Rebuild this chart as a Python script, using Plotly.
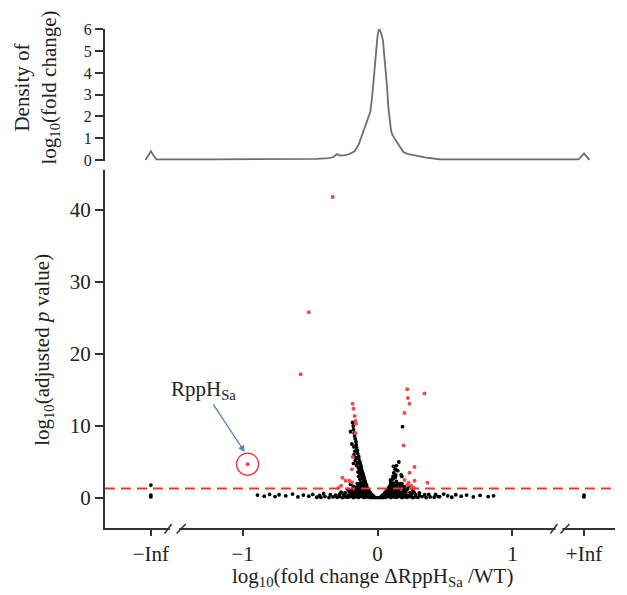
import math

import numpy as np
import plotly.graph_objects as go

# ---- data --------------------------------------------------------------
# density of log10(fold change) (top panel), on the drawn (broken) axis
DENS_FC = [-1.72, -1.70, -1.68, -1.66, -1.64, -1.2, -0.8, -0.6, -0.45, -0.36,
           -0.33, -0.30, -0.28, -0.24, -0.21, -0.17, -0.14, -0.12, -0.10, -0.084,
           -0.066, -0.054, -0.04, -0.03, -0.02, -0.01, 0.0, 0.008, 0.015, 0.025,
           0.04, 0.05, 0.06, 0.07, 0.08, 0.09, 0.10, 0.11, 0.13, 0.15,
           0.17, 0.19, 0.22, 0.26, 0.30, 0.36, 0.46, 0.8, 1.2, 1.49,
           1.51, 1.53, 1.55, 1.57]
DENS_Y = [0.0, 0.2, 0.40, 0.2, 0.02, 0.02, 0.02, 0.03, 0.05, 0.08,
          0.12, 0.27, 0.20, 0.22, 0.27, 0.40, 0.70, 1.05, 1.40, 1.70,
          1.95, 2.20, 2.90, 3.50, 4.20, 5.00, 5.70, 5.98, 6.00, 5.85,
          5.50, 4.90, 4.30, 3.40, 2.45, 1.75, 1.35, 1.15, 0.95, 0.78,
          0.55, 0.37, 0.28, 0.23, 0.17, 0.10, 0.03, 0.02, 0.02, 0.02,
          0.15, 0.30, 0.15, 0.0]

# significant genes (red)
SIG = [(-0.333, 41.8), (-0.51, 25.8), (-0.57, 17.2), (-0.185, 13.1), (-0.178, 12.4),
       (-0.17, 11.4), (-0.163, 10.7), (-0.160, 10.3), (-0.163, 9.0), (-0.185, 5.7),
       (-0.19, 4.0), (-0.237, 2.4), (-0.19, 2.2), (-0.29, 1.4), (-0.26, 2.8),
       (-0.21, 2.4), (-0.27, 1.7), (0.22, 15.1), (0.225, 13.9), (0.237, 13.1),
       (0.348, 14.5), (0.20, 11.8), (0.193, 7.3), (0.274, 4.3), (0.237, 3.5),
       (0.274, 2.4), (0.37, 2.1), (0.23, 2.1), (0.25, 1.7), (0.27, 1.4),
       (0.20, 2.5), (0.22, 1.8)]
RPPH = (-0.963, 4.7)

# non-significant genes (black)
LEFT_ARM = [(-0.185, 10.5), (-0.18, 10.0), (-0.178, 9.5), (-0.172, 9.0), (-0.17, 8.6),
            (-0.165, 8.2), (-0.16, 7.8), (-0.158, 7.4), (-0.155, 7.0), (-0.15, 6.6),
            (-0.148, 6.2), (-0.14, 5.8), (-0.138, 5.4), (-0.13, 5.0), (-0.128, 4.7),
            (-0.122, 4.4), (-0.12, 4.1), (-0.115, 3.8), (-0.11, 3.5), (-0.105, 3.2),
            (-0.1, 2.9), (-0.098, 2.6), (-0.092, 2.3), (-0.088, 2.0), (-0.082, 1.8),
            (-0.078, 1.5), (-0.07, 1.2), (-0.062, 0.9), (-0.055, 0.7), (-0.045, 0.5),
            (-0.035, 0.3), (-0.025, 0.15), (-0.2, 9.2), (-0.19, 7.5), (-0.175, 6.0),
            (-0.165, 5.2), (-0.155, 4.5), (-0.145, 3.6), (-0.14, 3.0), (-0.13, 2.6),
            (-0.125, 2.1), (-0.12, 1.7), (-0.11, 1.3), (-0.1, 1.0), (-0.09, 0.8),
            (-0.08, 0.6), (-0.07, 0.4), (-0.06, 0.2), (-0.05, 0.1), (-0.135, 2.0),
            (-0.125, 1.5), (-0.115, 1.1), (-0.105, 2.4), (-0.095, 1.6), (-0.115, 2.8),
            (-0.085, 1.2), (-0.14, 1.2), (-0.15, 1.0), (-0.16, 0.9), (-0.17, 1.5),
            (-0.13, 3.4), (-0.118, 3.2), (-0.175, 7.1), (-0.168, 6.5), (-0.16, 5.6),
            (-0.15, 4.9), (-0.142, 4.2), (-0.135, 3.8), (-0.178, 4.8), (-0.2, 1.9)]
RIGHT_ARM = [(0.025, 0.15), (0.035, 0.3), (0.045, 0.5), (0.055, 0.7), (0.065, 0.9),
             (0.075, 1.2), (0.085, 1.5), (0.095, 1.8), (0.1, 2.2), (0.11, 2.6),
             (0.115, 3.0), (0.12, 3.5), (0.13, 4.0), (0.14, 4.5), (0.158, 5.0),
             (0.118, 4.4), (0.138, 3.9), (0.175, 3.2), (0.096, 2.5), (0.133, 2.9),
             (0.15, 3.8), (0.135, 3.2), (0.125, 2.8), (0.14, 2.3), (0.17, 2.0),
             (0.19, 1.6), (0.16, 1.3), (0.2, 1.1), (0.185, 9.9), (0.18, 3.0),
             (0.105, 1.4), (0.09, 1.1), (0.08, 0.9), (0.12, 1.9), (0.13, 1.6),
             (0.145, 1.8), (0.11, 0.8), (0.1, 0.6)]
BASE_FC = [-0.42, -0.39, -0.36, -0.33, -0.30, -0.28, -0.26, -0.24, -0.22, -0.20,
           -0.18, -0.16, -0.14, -0.12, -0.10, -0.08, -0.06, -0.04, -0.02, 0.0,
           0.02, 0.04, 0.06, 0.08, 0.10, 0.12, 0.14, 0.16, 0.18, 0.20,
           0.22, 0.24, 0.26, 0.28, 0.30, 0.33, 0.36, 0.39, 0.42, 0.45,
           -0.35, -0.31, -0.28, -0.25, -0.22, -0.20, -0.18, -0.16, -0.14, -0.12,
           -0.10, -0.08, -0.06, -0.045, -0.035, 0.035, 0.045, 0.06, 0.08, 0.10,
           0.12, 0.14, 0.16, 0.18, 0.20, 0.22, 0.25, 0.28, 0.31, 0.35, 0.38,
           -0.27, -0.24, -0.21, -0.19, -0.17, -0.15, -0.13, -0.11, -0.09, -0.07,
           -0.055, 0.055, 0.07, 0.09, 0.11, 0.13, 0.15, 0.17, 0.19, 0.21,
           0.24, 0.27, 0.31,
           -0.22, -0.19, -0.16, -0.14, -0.12, -0.10, -0.085, -0.07, 0.07, 0.085,
           0.10, 0.12, 0.14, 0.16, 0.19, 0.22, 0.26,
           -0.18, -0.15, -0.13, -0.11, -0.095, 0.09, 0.105, 0.12, 0.14, 0.17,
           0.20, 0.23, -0.15, -0.12, -0.10, 0.10, 0.12, 0.15, 0.18]
BASE_P = [0.10, 0.20, 0.05, 0.15, 0.10, 0.20, 0.05, 0.15, 0.10, 0.20,
          0.05, 0.15, 0.10, 0.20, 0.05, 0.15, 0.10, 0.05, 0.05, 0.05,
          0.05, 0.05, 0.10, 0.20, 0.05, 0.15, 0.10, 0.20, 0.05, 0.15,
          0.10, 0.20, 0.05, 0.15, 0.10, 0.20, 0.05, 0.15, 0.10, 0.20,
          0.45, 0.40, 0.50, 0.45, 0.40, 0.50, 0.45, 0.40, 0.50, 0.45,
          0.40, 0.50, 0.45, 0.40, 0.35, 0.35, 0.40, 0.45, 0.50, 0.40,
          0.45, 0.50, 0.40, 0.45, 0.50, 0.40, 0.45, 0.50, 0.40, 0.45, 0.50,
          0.80, 0.75, 0.85, 0.80, 0.75, 0.85, 0.80, 0.75, 0.85, 0.80,
          0.75, 0.75, 0.80, 0.85, 0.75, 0.80, 0.85, 0.75, 0.80, 0.85,
          0.75, 0.80, 0.70,
          1.20, 1.15, 1.25, 1.20, 1.15, 1.25, 1.20, 1.15, 1.15, 1.20,
          1.25, 1.15, 1.20, 1.25, 1.15, 1.20, 1.10,
          1.60, 1.55, 1.65, 1.60, 1.55, 1.55, 1.60, 1.65, 1.55, 1.60,
          1.55, 1.50, 2.00, 2.05, 1.95, 2.00, 2.05, 1.95, 2.00]
TAILS = [(-0.89, 0.4), (-0.84, 0.25), (-0.80, 0.5), (-0.76, 0.2), (-0.73, 0.45),
         (-0.68, 0.3), (-0.63, 0.55), (-0.59, 0.15), (-0.55, 0.4), (-0.51, 0.25),
         (-0.48, 0.5), (-0.45, 0.1), (-0.43, 0.35), (-0.40, 0.6), (0.43, 0.5),
         (0.46, 0.2), (0.49, 0.55), (0.52, 0.3), (0.55, 0.1), (0.58, 0.45),
         (0.62, 0.25), (0.66, 0.4), (0.71, 0.15), (0.76, 0.35), (0.82, 0.2),
         (0.86, 0.3)]
INF_PTS = [(-math.inf, 0.15), (-math.inf, 0.4), (-math.inf, 1.8),
           (math.inf, 0.15), (math.inf, 0.4)]

P_CUTOFF = 0.05
X_TICKS = ["\u2212Inf", "\u22121", "0", "1", "+Inf"]
Y_TICKS = [0, 10, 20, 30, 40]
DENS_TICKS = [0, 1, 2, 3, 4, 5, 6]

# where the infinite fold changes are drawn on the broken axis
NEG_INF_AT, POS_INF_AT = -1.68, 1.53
FONT = "Liberation Serif, DejaVu Serif, serif"
AXIS = "#333333"


def place(vals):
    v = np.asarray(vals, dtype=float)
    return np.where(np.isneginf(v), NEG_INF_AT, np.where(np.isposinf(v), POS_INF_AT, v))


def unzip(pts):
    return [p[0] for p in pts], [p[1] for p in pts]


fig = go.Figure()

fig.add_trace(go.Scatter(x=DENS_FC, y=DENS_Y, mode="lines",
                         line=dict(color="#6e6e6e", width=1.8),
                         xaxis="x2", yaxis="y2", showlegend=False))

bx, by = [], []
for grp in (LEFT_ARM, RIGHT_ARM, TAILS, INF_PTS):
    gx, gy = unzip(grp)
    bx += gx
    by += gy
bx += BASE_FC
by += BASE_P
fig.add_trace(go.Scatter(x=place(bx), y=by, mode="markers",
                         marker=dict(color="black", size=3.8, line_width=0),
                         showlegend=False))

sx, sy = unzip(SIG + [RPPH])
fig.add_trace(go.Scatter(x=sx, y=sy, mode="markers",
                         marker=dict(color="#f24a4a", size=4, line_width=0),
                         showlegend=False))

thresh = -math.log10(P_CUTOFF)
shapes = [
    dict(type="line", xref="paper", x0=0, x1=1, yref="y", y0=thresh, y1=thresh,
         line=dict(color="#ff3535", width=2, dash="10px,6px"), layer="above"),
    dict(type="circle", xref="x", yref="y", xsizemode="pixel", ysizemode="pixel",
         xanchor=RPPH[0], yanchor=RPPH[1], x0=-11, x1=11, y0=-11, y1=11,
         line=dict(color="#e83a3a", width=1.3)),
]
# axis breaks: white gap plus two slashes on each side
for g0, g1, s in ((-1.54, -1.47, (-1.578, -1.526, -1.489, -1.422)),
                  (1.32, 1.37, (1.281, 1.333, 1.356, 1.422))):
    shapes.append(dict(type="rect", xref="x", yref="paper", x0=g0, x1=g1,
                       y0=-0.006, y1=0.006, fillcolor="white", line_width=0, layer="above"))
    shapes.append(dict(type="line", xref="x", yref="paper", x0=s[0], x1=s[1],
                       y0=-0.011, y1=0.008, line=dict(color=AXIS, width=1.5), layer="above"))
    shapes.append(dict(type="line", xref="x", yref="paper", x0=s[2], x1=s[3],
                       y0=-0.011, y1=0.008, line=dict(color=AXIS, width=1.5), layer="above"))

tick_font = dict(family=FONT, size=21, color="#222222")
small_tick_font = dict(family=FONT, size=16, color="#222222")
# page body keeps an 8px margin, so the figure is 8px smaller each way
fig.update_layout(
    width=619, height=587, autosize=False,
    margin=dict(l=97, r=12, t=21, b=67),
    plot_bgcolor="white", paper_bgcolor="white",
    font=dict(family=FONT, size=21, color="#222222"),
    shapes=shapes,
    xaxis=dict(domain=[0, 1], range=[-2.02, 1.76], anchor="y",
               tickvals=[NEG_INF_AT, -1, 0, 1, POS_INF_AT], ticktext=X_TICKS,
               ticks="outside", ticklen=6, tickwidth=1.5, tickcolor=AXIS,
               showline=True, linecolor=AXIS, linewidth=2,
               showgrid=False, zeroline=False, tickfont=tick_font),
    yaxis=dict(domain=[0, 0.7174], range=[-4.17, 45.56], anchor="x",
               tickvals=Y_TICKS, ticks="outside", ticklen=8, tickwidth=1.5,
               tickcolor=AXIS, showline=True, linecolor=AXIS, linewidth=2,
               showgrid=False, zeroline=False, tickfont=tick_font),
    xaxis2=dict(domain=[0, 1], range=[-2.02, 1.76], anchor="y2", visible=False),
    yaxis2=dict(domain=[0.7355, 1], range=[-0.05, 6.02], anchor="x2",
                tickvals=DENS_TICKS, ticks="outside", ticklen=8, tickwidth=1.5,
                tickcolor=AXIS, showline=True, linecolor=AXIS, linewidth=2,
                showgrid=False, zeroline=False, tickfont=small_tick_font),
    annotations=[
        dict(text="log<sub>10</sub>(fold change \u0394RppH<sub>Sa</sub> /WT)",
             xref="paper", yref="paper", x=0.525, y=-0.098, showarrow=False,
             xanchor="center", yanchor="middle"),
        dict(text="log<sub>10</sub>(adjusted <i>p</i> value)", textangle=-90,
             xref="paper", yref="paper", x=-0.1216, y=0.357, showarrow=False,
             xanchor="center", yanchor="middle"),
        dict(text="Density of<br>log<sub>10</sub>(fold change)", textangle=-90,
             xref="paper", yref="paper", x=-0.134, y=0.882, showarrow=False,
             xanchor="center", yanchor="middle"),
        dict(text="RppH<sub>Sa</sub>", x=-0.985, y=6.4, xref="x", yref="y",
             ax=-41, ay=-62, showarrow=True, arrowhead=2, arrowsize=1,
             arrowwidth=1.3, arrowcolor="#4f7fbf"),
    ],
)

fig.write_html("out.html")
